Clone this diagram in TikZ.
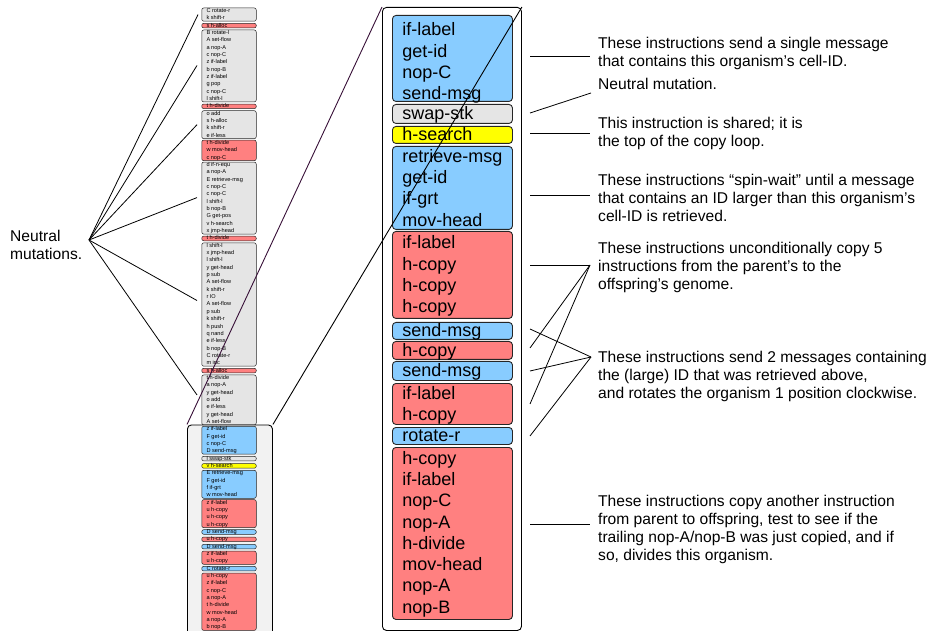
\documentclass[tikz,border=0pt]{standalone}
\usepackage{fontspec}
\setmainfont{Liberation Sans}
\usetikzlibrary{calc}
\definecolor{cblue}{RGB}{136,204,255}
\definecolor{cred}{RGB}{255,128,128}
\definecolor{cgray}{RGB}{229,229,229}
\definecolor{cyel}{RGB}{255,255,0}
\definecolor{cframe}{RGB}{242,242,242}
\definecolor{cpurple}{RGB}{55,15,55}
\newcommand\cbox[3][0pt]{\smash{\raisebox{-#1}{\vbox to 0pt{\vss\hbox to #2{\begin{tabular}{@{}l@{}}#3\end{tabular}\hss}\vss}}}}
\def\gy{7}\def\gp{7.34}
\newcommand\gblk[5]{%
  \pgfmathsetmacro\gtop{\gy+\gp*#3+(#4>1 ? 0.7 : (\gp-4.6)/2)}%
  \pgfmathsetmacro\gh{#4>1 ? \gp*#4-1.4 : 4.6}%
  \node[sbox, fill=#2, minimum height=\gh pt] (#1) at (201.5,\gtop) {\cbox{45pt}{#5}};}
\tikzset{
  mbox/.style={draw=black!85, line width=0.9pt, rounded corners=3.5pt, anchor=north west,
    inner sep=0pt, minimum width=120pt, font=\fontsize{18}{21.3}\selectfont},
  sbox/.style={draw=black!85, line width=0.5pt, rounded corners=2pt, anchor=north west,
    inner sep=0pt, minimum width=54.5pt, font=\fontsize{5.6}{7.34}\selectfont},
  frame/.style={draw=black, line width=0.9pt, rounded corners=4pt, anchor=north west, inner sep=0pt},
  note/.style={anchor=west, inner sep=0pt, font=\fontsize{15.6}{18}\selectfont},
  link/.style={draw=black, line width=0.8pt},
}
\begin{document}
\begin{tikzpicture}[x=1pt,y=-1pt]
\useasboundingbox (0,0) rectangle (930,631);
\clip (0,0) rectangle (930,631);
% ---- left column (whole genome)
\gblk{g1}{cgray}{0}{2}{C rotate-r\\k shift-r}
\gblk{g2}{cred}{2}{1}{s h-alloc}
\gblk{g3}{cgray}{3}{10}{B rotate-l\\A set-flow\\a nop-A\\c nop-C\\z if-label\\b nop-B\\z if-label\\g pop\\c nop-C\\l shift-l}
\gblk{g4}{cred}{13}{1}{t h-divide}
\gblk{g5}{cgray}{14}{4}{o add\\s h-alloc\\k shift-r\\e if-less}
\gblk{g6}{cred}{18}{3}{t h-divide\\w mov-head\\c nop-C}
\gblk{g7}{cgray}{21}{10}{d if-n-equ\\a nop-A\\E retrieve-msg\\c nop-C\\c nop-C\\l shift-l\\b nop-B\\G get-pos\\v h-search\\x jmp-head}
\gblk{g8}{cred}{31}{1}{t h-divide}
\gblk{g9}{cgray}{32}{17}{l shift-l\\x jmp-head\\l shift-l\\y get-head\\p sub\\A set-flow\\k shift-r\\r IO\\A set-flow\\p sub\\k shift-r\\h push\\q nand\\e if-less\\b nop-B\\C rotate-r\\m inc}
\gblk{g10}{cred}{49}{1}{s h-alloc}
\gblk{g11}{cgray}{50}{7}{t h-divide\\a nop-A\\y get-head\\o add\\e if-less\\y get-head\\A set-flow}
% ---- small frame
\node[frame, fill=cframe, minimum width=85pt, minimum height=230pt] (sf) at (187,424.5) {};
\def\gy{425.3}
\gblk{s1}{cblue}{0}{4}{z if-label\\F get-id\\c nop-C\\D send-msg}
\gblk{s2}{cgray}{4}{1}{l swap-stk}
\gblk{s3}{cyel}{5}{1}{v h-search}
\gblk{s4}{cblue}{6}{4}{E retrieve-msg\\F get-id\\f if-grt\\w mov-head}
\gblk{s5}{cred}{10}{4}{z if-label\\u h-copy\\u h-copy\\u h-copy}
\gblk{s6}{cblue}{14}{1}{D send-msg}
\gblk{s7}{cred}{15}{1}{u h-copy}
\gblk{s8}{cblue}{16}{1}{D send-msg}
\gblk{s9}{cred}{17}{2}{z if-label\\u h-copy}
\gblk{s10}{cblue}{19}{1}{C rotate-r}
\gblk{s11}{cred}{20}{8}{u h-copy\\z if-label\\c nop-C\\a nop-A\\t h-divide\\w mov-head\\a nop-A\\b nop-B}
% ---- big frame
\node[frame, fill=white, minimum width=139pt, minimum height=623pt] (bf) at (382,7) {};
\node[mbox, fill=cblue, minimum height=86pt] (m1) at (392,15) {\cbox[5pt]{100pt}{if-label\\get-id\\nop-C\\send-msg}};
\node[mbox, fill=cgray, minimum height=19pt] (m2) at (392,104) {\cbox[1.5pt]{100pt}{swap-stk}};
\node[mbox, fill=cyel, minimum height=17pt] (m3) at (392,126) {\cbox[1.5pt]{100pt}{h-search}};
\node[mbox, fill=cblue, minimum height=83pt] (m4) at (392,146) {\cbox[2pt]{100pt}{retrieve-msg\\get-id\\if-grt\\mov-head}};
\node[mbox, fill=cred, minimum height=87pt] (m5) at (392,231) {\cbox[1.5pt]{100pt}{if-label\\h-copy\\h-copy\\h-copy}};
\node[mbox, fill=cblue, minimum height=17pt] (m6) at (392,322) {\cbox[1.5pt]{100pt}{send-msg}};
\node[mbox, fill=cred, minimum height=18pt] (m7) at (392,341) {\cbox[1.5pt]{100pt}{h-copy}};
\node[mbox, fill=cblue, minimum height=19pt] (m8) at (392,361) {\cbox[1.5pt]{100pt}{send-msg}};
\node[mbox, fill=cred, minimum height=41pt] (m9) at (392,383) {\cbox[1.5pt]{100pt}{if-label\\h-copy}};
\node[mbox, fill=cblue, minimum height=17pt] (m10) at (392,427) {\cbox[1.5pt]{100pt}{rotate-r}};
\node[mbox, fill=cred, minimum height=172pt] (m11) at (392,447) {\cbox[1pt]{100pt}{h-copy\\if-label\\nop-C\\nop-A\\h-divide\\mov-head\\nop-A\\nop-B}};
% ---- zoom lines
\draw[cpurple, line width=0.9pt] (sf.north west) -- (bf.north west);
\draw[black, line width=0.9pt] (sf.north east) -- (bf.north east);
% ---- neutral mutations
\node[note] (nm) at (10,247) {\begin{tabular}{@{}l@{}}Neutral\\mutations.\end{tabular}};
\coordinate (nf) at (89,240);
\draw[link] (nf) -- ($(g1.west)+(-3.5,0)$);
\draw[link] (nf) -- ($(g3.west)+(-4.5,-0.5)$);
\draw[link] (nf) -- ($(g5.west)+(-4.5,0)$);
\draw[link] (nf) -- ($(g7.west)+(-4.5,-0.5)$);
\draw[link] (nf) -- ($(g9.west)+(-4.5,-4)$);
\draw[link] (nf) -- ($(g11.west)+(-4.5,-5)$);
% ---- annotations
\node[note] (n1) at (598,54) {\begin{tabular}{@{}l@{}}These instructions send a single message\\that contains this organism's cell-ID.\end{tabular}};
\node[note] (n2) at (598,86) {\begin{tabular}{@{}l@{}}Neutral mutation.\end{tabular}};
\node[note] (n3) at (598,134) {\begin{tabular}{@{}l@{}}This instruction is shared; it is\\the top of the copy loop.\end{tabular}};
\node[note] (n4) at (598,200) {\begin{tabular}{@{}l@{}}These instructions “spin-wait” until a message\\that contains an ID larger than this organism's\\cell-ID is retrieved.\end{tabular}};
\node[note] (n5) at (598,268) {\begin{tabular}{@{}l@{}}These instructions unconditionally copy 5\\instructions from the parent's to the\\offspring's genome.\end{tabular}};
\node[note] (n6) at (598,377) {\begin{tabular}{@{}l@{}}These instructions send 2 messages containing\\the (large) ID that was retrieved above,\\and rotates the organism 1 position clockwise.\end{tabular}};
\node[note] (n7) at (598,530) {\begin{tabular}{@{}l@{}}These instructions copy another instruction\\from parent to offspring, test to see if the\\trailing nop-A/nop-B was just copied, and if\\so, divides this organism.\end{tabular}};
\coordinate (c1a) at (530,56);  \coordinate (c1b) at (590,56);
\coordinate (c2a) at (530,113); \coordinate (c2b) at (591,93);
\coordinate (c3a) at (530,133); \coordinate (c3b) at (590,133);
\coordinate (c4a) at (530,195); \coordinate (c4b) at (590,195);
\coordinate (fA) at (590,265);
\coordinate (a1) at (530,265); \coordinate (a2) at (530,348); \coordinate (a3) at (530,404);
\coordinate (fB) at (591,357);
\coordinate (b1) at (530,329); \coordinate (b2) at (530,371); \coordinate (b3) at (530,436);
\coordinate (c7a) at (530,524); \coordinate (c7b) at (590,524);
\draw[link] (c1a) -- (c1b);
\draw[link] (c2a) -- (c2b);
\draw[link] (c3a) -- (c3b);
\draw[link] (c4a) -- (c4b);
\draw[link] (a1) -- (fA); \draw[link] (a2) -- (fA); \draw[link] (a3) -- (fA);
\draw[link] (b1) -- (fB); \draw[link] (b2) -- (fB); \draw[link] (b3) -- (fB);
\draw[link] (c7a) -- (c7b);
\end{tikzpicture}
\end{document}
